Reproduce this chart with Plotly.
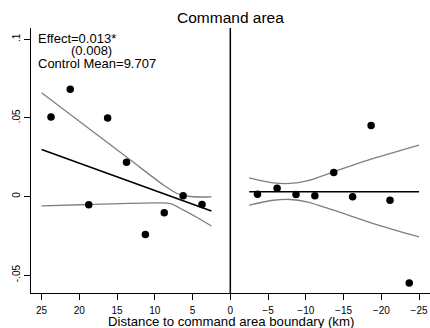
import plotly.graph_objects as go

# Binned means
left_x = [23.75, 21.2, 18.75, 16.25, 13.75, 11.25, 8.75, 6.25, 3.75]
left_y = [0.0505, 0.0682, -0.0053, 0.050, 0.0218, -0.0242, -0.0104, 0.0004, -0.0051]
right_x = [-3.6, -6.2, -8.7, -11.2, -13.7, -16.2, -18.65, -21.15, -23.7]
right_y = [0.0015, 0.0053, 0.0013, 0.0004, 0.0153, -0.0002, 0.0452, -0.0024, -0.055]

# Linear fits
left_fit_x = [25, 2.5]
left_fit_y = [0.0299, -0.0092]
right_fit_x = [-2.5, -25]
right_fit_y = [0.003, 0.003]

# Confidence bands
left_up_x = [25, 19.84, 13.23, 8.82, 7.05, 5.29, 2.5]
left_up_y = [0.066, 0.0473, 0.0232, 0.0072, 0.0019, 0.0, -0.0003]
left_lo_x = [25, 18.74, 9.7, 7.94, 6.18, 4.4, 2.5]
left_lo_y = [-0.006, -0.0051, -0.0041, -0.0045, -0.0087, -0.0134, -0.0188]
right_up_x = [-2.5, -5.73, -7.94, -10.14, -13.67, -18.96, -25]
right_up_y = [0.0119, 0.0087, 0.0083, 0.0099, 0.0157, 0.0242, 0.0327]
right_lo_x = [-2.5, -5.73, -7.94, -10.14, -13.67, -18.96, -25]
right_lo_y = [-0.0055, -0.0024, -0.0019, -0.0034, -0.0087, -0.0172, -0.0257]

x_ticks = [25, 20, 15, 10, 5, 0, -5, -10, -15, -20, -25]
y_ticks = [-0.05, 0, 0.05, 0.1]
y_ticktext = ["-.05", "0", ".05", ".1"]

FONT = "Liberation Sans, Arial, sans-serif"
GRAY = "#7f7f7f"

fig = go.Figure()
for bx, by in [(left_up_x, left_up_y), (left_lo_x, left_lo_y),
               (right_up_x, right_up_y), (right_lo_x, right_lo_y)]:
    fig.add_trace(go.Scatter(x=bx, y=by, mode="lines",
                             line=dict(color=GRAY, width=1.3, shape="spline", smoothing=0.8),
                             hoverinfo="skip"))
for fx, fy in [(left_fit_x, left_fit_y), (right_fit_x, right_fit_y)]:
    fig.add_trace(go.Scatter(x=fx, y=fy, mode="lines",
                             line=dict(color="black", width=1.6)))
for px, py in [(left_x, left_y), (right_x, right_y)]:
    fig.add_trace(go.Scatter(x=px, y=py, mode="markers",
                             marker=dict(color="black", size=7.5)))

fig.add_shape(type="line", x0=0, x1=0, xref="x", y0=0, y1=1, yref="paper",
              line=dict(color="black", width=1.5))

fig.add_annotation(text="Effect=0.013*", x=25.8, y=0.1008, xref="x", yref="y",
                   xanchor="left", yanchor="middle", showarrow=False,
                   font=dict(size=13, color="black", family=FONT))
fig.add_annotation(text="(0.008)", x=18.45, y=0.0932, xref="x", yref="y",
                   xanchor="center", yanchor="middle", showarrow=False,
                   font=dict(size=13, color="black", family=FONT))
fig.add_annotation(text="Control Mean=9.707", x=25.8, y=0.0849, xref="x", yref="y",
                   xanchor="left", yanchor="middle", showarrow=False,
                   font=dict(size=13, color="black", family=FONT))
fig.add_annotation(text="Command area", x=0.5, y=1.0415, xref="paper", yref="paper",
                   xanchor="center", yanchor="middle", showarrow=False,
                   font=dict(size=15.5, color="black", family=FONT))
fig.add_annotation(text="Distance to command area boundary (km)", x=0.5, y=-0.106,
                   xref="paper", yref="paper", xanchor="center", yanchor="middle",
                   showarrow=False, font=dict(size=13.2, color="black", family=FONT))

fig.update_layout(
    width=430, height=328,
    margin=dict(l=31, r=0, t=28, b=35, autoexpand=False),
    paper_bgcolor="white", plot_bgcolor="white",
    showlegend=False,
    font=dict(family=FONT, color="black"),
    xaxis=dict(range=[26.4, -26.45], tickvals=x_ticks, showgrid=False, zeroline=False,
               showline=True, linecolor="black", linewidth=1, ticks="outside",
               ticklen=6, tickcolor="black", tickfont=dict(size=10, family=FONT),
               ticklabelstandoff=2, automargin=False),
    yaxis=dict(range=[-0.0614, 0.1072], tickvals=y_ticks, ticktext=y_ticktext,
               showgrid=False, zeroline=False, showline=True, linecolor="black",
               linewidth=1, ticks="outside", ticklen=6, tickcolor="black",
               tickangle=-90, tickfont=dict(size=10, family=FONT), automargin=False),
)

fig.write_html("out.html", config={"displayModeBar": False},
               post_script="document.body.style.margin='0';document.body.style.padding='0';")
